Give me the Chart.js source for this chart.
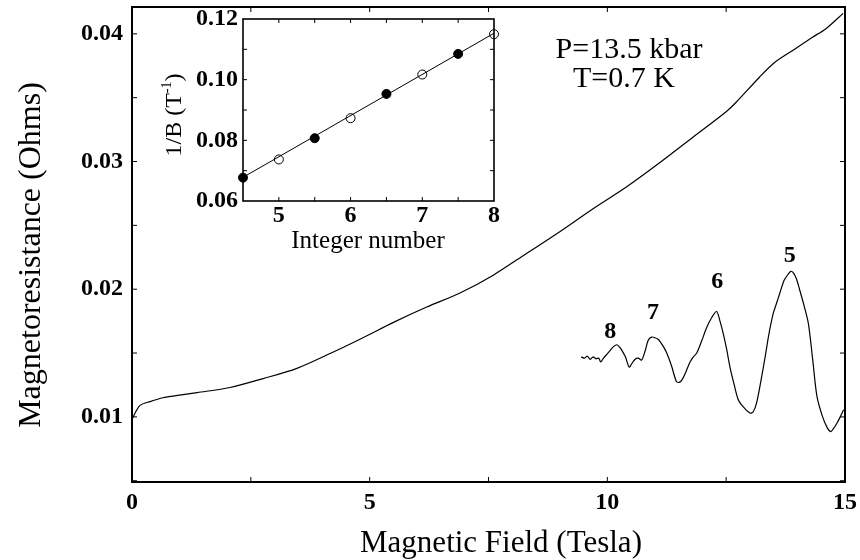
<!DOCTYPE html>
<html>
<head>
<meta charset="utf-8">
<script src="https://cdn.jsdelivr.net/npm/chart.js@4/dist/chart.umd.min.js"></script>
<style>
  html, body { margin: 0; padding: 0; background: #fff; }
  #wrap { position: relative; width: 860px; height: 560px; }
  #main { position: absolute; left: 0; top: 0; }
  #inset-box { position: absolute; left: 150px; top: 10px; width: 360px; height: 250px; }
</style>
</head>
<body>
<div id="wrap">
  <canvas id="main" width="860" height="560"></canvas>
  <div id="inset-box"><canvas id="inset" width="360" height="250"></canvas></div>
</div>
<script>
// Magnetoresistance vs field, P=13.5 kbar, T=0.7 K

// main curve (Tesla, Ohms)
const fieldB = [0, 0.08, 0.17, 0.38, 0.65, 1.0, 1.37, 2.06, 2.76, 3.47, 4.19, 4.86, 5.5, 6.2, 6.9,
  7.6, 8.3, 9.0, 9.7, 10.4, 11.1, 11.8, 12.5, 12.7, 13.2, 13.5, 13.9, 14.3, 14.6, 14.96];
const resistance = [0.0098, 0.0104, 0.0109, 0.0112, 0.0115, 0.0117, 0.0119, 0.0123, 0.0130, 0.0138,
  0.0150, 0.0162, 0.0174, 0.0186, 0.0197, 0.0211, 0.0228, 0.0245, 0.0263, 0.0280, 0.0299, 0.0319,
  0.0339, 0.0346, 0.0366, 0.0377, 0.0387, 0.0397, 0.0404, 0.0416];

// oscillating part (background subtracted, shifted)
const oscB = [9.45, 9.52, 9.58, 9.64, 9.70, 9.76, 9.82, 9.86, 9.92, 9.99, 10.06, 10.13, 10.20, 10.25,
  10.30, 10.38, 10.46, 10.52, 10.58, 10.65, 10.72, 10.79, 10.86, 10.93, 11.0, 11.06, 11.11, 11.18,
  11.25, 11.35, 11.45, 11.51, 11.57, 11.65, 11.74, 11.81, 11.88, 11.98, 12.09, 12.2, 12.30, 12.37,
  12.44, 12.51, 12.58, 12.67, 12.76, 12.88, 13.0, 13.07, 13.14, 13.23, 13.32, 13.40, 13.49, 13.56,
  13.63, 13.72, 13.81, 13.86, 13.91, 13.98, 14.05, 14.14, 14.23, 14.32, 14.41, 14.52, 14.62, 14.70,
  14.76, 14.83, 14.90, 14.97];
const oscR = [0.0147, 0.0146, 0.01475, 0.0145, 0.0147, 0.01455, 0.0146, 0.0143, 0.0146, 0.0149,
  0.0152, 0.0155, 0.01565, 0.0155, 0.01525, 0.0147, 0.0139, 0.0142, 0.0145, 0.0146, 0.01445, 0.0151,
  0.0160, 0.01625, 0.0162, 0.0161, 0.0159, 0.0155, 0.0150, 0.0140, 0.0128, 0.0127, 0.0129, 0.0135,
  0.0143, 0.0147, 0.0150, 0.0159, 0.0170, 0.0178, 0.01825, 0.0175, 0.0165, 0.0153, 0.0139, 0.0125,
  0.0113, 0.0107, 0.0103, 0.0104, 0.0111, 0.0128, 0.0147, 0.0165, 0.0181, 0.0189, 0.0197, 0.0207,
  0.0212, 0.0214, 0.0213, 0.0208, 0.0199, 0.0187, 0.0173, 0.0145, 0.0116, 0.0101, 0.0092, 0.00885,
  0.0091, 0.0095, 0.0100, 0.01055];

// Landau level labels on the oscillations
const peakLabels = ['8', '7', '6', '5'];
const peakLabelB = [10.06, 10.96, 12.31, 13.84];
const peakLabelR = [0.01667, 0.01814, 0.02057, 0.02263];

const mainXTicks = [0, 2.5, 5, 7.5, 10, 12.5, 15];
const mainYTicks = [0.005, 0.01, 0.015, 0.02, 0.025, 0.03, 0.035, 0.04];

// inset: 1/B of extrema vs index
const filledN = [4.5, 5.5, 6.5, 7.5];
const filledInvB = [0.0677, 0.0807, 0.0953, 0.1085];
const openN = [5, 6, 7, 8];
const openInvB = [0.0737, 0.0873, 0.1017, 0.115];
const fitN = [4.5, 8];
const fitInvB = [0.0678, 0.1153];

const insetXTicks = [4.5, 5, 5.5, 6, 6.5, 7, 7.5, 8];
const insetYTicks = [0.06, 0.07, 0.08, 0.09, 0.10, 0.11, 0.12];

const SERIF = "'Liberation Serif', 'Times New Roman', serif";

const pairs = (xs, ys) => xs.map((v, i) => ({ x: v, y: ys[i] }));
const isMult = (v, step) => Math.abs(v / step - Math.round(v / step)) < 1e-6;

// keep tick labels from pushing the plot area in
function noPad(s) {
  s.paddingTop = 0;
  s.paddingBottom = 0;
  s.paddingLeft = 0;
  s.paddingRight = 0;
}

// frame box and inward ticks on all four sides
const boxTicks = {
  id: 'boxTicks',
  afterDatasetsDraw(chart, args, opts) {
    const { ctx, chartArea: a, scales: { x, y } } = chart;
    ctx.save();
    ctx.strokeStyle = '#000';
    ctx.lineWidth = 1;
    ctx.beginPath();
    x.ticks.forEach(t => {
      const px = x.getPixelForValue(t.value);
      if (px <= a.left + 1 || px >= a.right - 1) return;
      ctx.moveTo(px, a.bottom); ctx.lineTo(px, a.bottom - opts.len);
      ctx.moveTo(px, a.top); ctx.lineTo(px, a.top + opts.len);
    });
    y.ticks.forEach(t => {
      const py = y.getPixelForValue(t.value);
      if (py <= a.top + 1 || py >= a.bottom - 1) return;
      ctx.moveTo(a.left, py); ctx.lineTo(a.left + opts.len, py);
      ctx.moveTo(a.right, py); ctx.lineTo(a.right - opts.len, py);
    });
    ctx.stroke();
    ctx.lineWidth = opts.lineWidth;
    ctx.strokeRect(a.left, a.top, a.right - a.left, a.bottom - a.top);
    ctx.restore();
  }
};

const mainText = {
  id: 'mainText',
  afterDraw(chart) {
    const { ctx, scales: { x, y } } = chart;
    ctx.save();
    ctx.fillStyle = '#000';
    ctx.textAlign = 'center';

    ctx.font = '31px ' + SERIF;
    ctx.textBaseline = 'alphabetic';
    ctx.fillText('Magnetic Field (Tesla)', 501, 552);

    ctx.save();
    ctx.font = '32px ' + SERIF;
    ctx.translate(40, 255);
    ctx.rotate(-Math.PI / 2);
    ctx.fillText('Magnetoresistance (Ohms)', 0, 0);
    ctx.restore();

    ctx.font = '30px ' + SERIF;
    ctx.fillText('P=13.5 kbar', 629, 58);
    ctx.fillText('T=0.7 K', 624, 87);

    ctx.font = 'bold 24px ' + SERIF;
    ctx.textBaseline = 'middle';
    peakLabels.forEach((s, i) => {
      ctx.fillText(s, x.getPixelForValue(peakLabelB[i]), y.getPixelForValue(peakLabelR[i]));
    });
    ctx.restore();
  }
};

const insetText = {
  id: 'insetText',
  afterDraw(chart) {
    const { ctx } = chart;
    ctx.save();
    ctx.fillStyle = '#000';
    ctx.font = '25px ' + SERIF;
    ctx.textAlign = 'center';
    ctx.textBaseline = 'alphabetic';
    ctx.fillText('Integer number', 218, 238);

    // 1/B (T^-1), rotated
    ctx.translate(31, 105);
    ctx.rotate(-Math.PI / 2);
    ctx.textAlign = 'left';
    const big = '24px ' + SERIF, small = '14px ' + SERIF;
    ctx.font = big;
    const w1 = ctx.measureText('1/B (T').width;
    const w3 = ctx.measureText(')').width;
    ctx.font = small;
    const w2 = ctx.measureText('-1').width;
    let px = -(w1 + w2 + w3) / 2;
    ctx.font = big;
    ctx.fillText('1/B (T', px, 0);
    px += w1;
    ctx.font = small;
    ctx.fillText('-1', px, -10);
    px += w2;
    ctx.font = big;
    ctx.fillText(')', px, 0);
    ctx.restore();
  }
};

new Chart(document.getElementById('main'), {
  type: 'line',
  data: {
    datasets: [
      {
        data: pairs(fieldB, resistance),
        borderColor: '#000',
        borderWidth: 1.2,
        pointRadius: 0,
        tension: 0.3
      },
      {
        data: pairs(oscB, oscR),
        borderColor: '#000',
        borderWidth: 1.2,
        pointRadius: 0,
        tension: 0.3
      }
    ]
  },
  options: {
    responsive: false,
    animation: false,
    events: [],
    layout: { padding: { top: 7, right: 15, left: 0, bottom: 0 } },
    plugins: {
      legend: { display: false },
      tooltip: { enabled: false },
      boxTicks: { len: 5, lineWidth: 2 }
    },
    scales: {
      x: {
        type: 'linear',
        min: 0,
        max: 15,
        afterBuildTicks: s => { s.ticks = mainXTicks.map(v => ({ value: v })); },
        afterFit: s => { s.height = 78; noPad(s); },
        grid: { display: false, drawTicks: false },
        border: { display: false },
        ticks: {
          autoSkip: false,
          maxRotation: 0,
          padding: 6,
          color: '#000',
          font: { family: SERIF, size: 24, weight: 'bold' },
          callback: v => isMult(v, 5) ? String(v) : ''
        }
      },
      y: {
        type: 'linear',
        min: 0.0049,
        max: 0.0421,
        afterBuildTicks: s => { s.ticks = mainYTicks.map(v => ({ value: v })); },
        afterFit: s => { s.width = 132; noPad(s); },
        grid: { display: false, drawTicks: false },
        border: { display: false },
        ticks: {
          autoSkip: false,
          padding: 9,
          color: '#000',
          font: { family: SERIF, size: 24, weight: 'bold' },
          callback: v => isMult(v, 0.01) ? v.toFixed(2) : ''
        }
      }
    }
  },
  plugins: [boxTicks, mainText]
});

new Chart(document.getElementById('inset'), {
  type: 'scatter',
  data: {
    datasets: [
      {
        data: pairs(fitN, fitInvB),
        showLine: true,
        borderColor: '#000',
        borderWidth: 1,
        pointRadius: 0,
        clip: false
      },
      {
        data: pairs(filledN, filledInvB),
        pointRadius: 4.5,
        pointBackgroundColor: '#000',
        pointBorderColor: '#000',
        pointBorderWidth: 1,
        clip: false
      },
      {
        data: pairs(openN, openInvB),
        pointRadius: 4.5,
        pointBackgroundColor: '#fff',
        pointBorderColor: '#000',
        pointBorderWidth: 1,
        clip: false
      }
    ]
  },
  options: {
    responsive: false,
    animation: false,
    events: [],
    layout: { padding: { top: 9, right: 16, left: 0, bottom: 0 } },
    plugins: {
      legend: { display: false },
      tooltip: { enabled: false },
      boxTicks: { len: 4, lineWidth: 1.6 }
    },
    scales: {
      x: {
        type: 'linear',
        min: 4.5,
        max: 8,
        afterBuildTicks: s => { s.ticks = insetXTicks.map(v => ({ value: v })); },
        afterFit: s => { s.height = 59; noPad(s); },
        grid: { display: false, drawTicks: false },
        border: { display: false },
        ticks: {
          autoSkip: false,
          maxRotation: 0,
          padding: 0,
          color: '#000',
          font: { family: SERIF, size: 24, weight: 'bold' },
          callback: v => isMult(v, 1) ? String(v) : ''
        }
      },
      y: {
        type: 'linear',
        min: 0.06,
        max: 0.12,
        afterBuildTicks: s => { s.ticks = insetYTicks.map(v => ({ value: v })); },
        afterFit: s => { s.width = 93; noPad(s); },
        grid: { display: false, drawTicks: false },
        border: { display: false },
        ticks: {
          autoSkip: false,
          padding: 5,
          color: '#000',
          font: { family: SERIF, size: 24, weight: 'bold' },
          callback: v => isMult(v, 0.02) ? v.toFixed(2) : ''
        }
      }
    }
  },
  plugins: [boxTicks, insetText]
});
</script>
</body>
</html>
